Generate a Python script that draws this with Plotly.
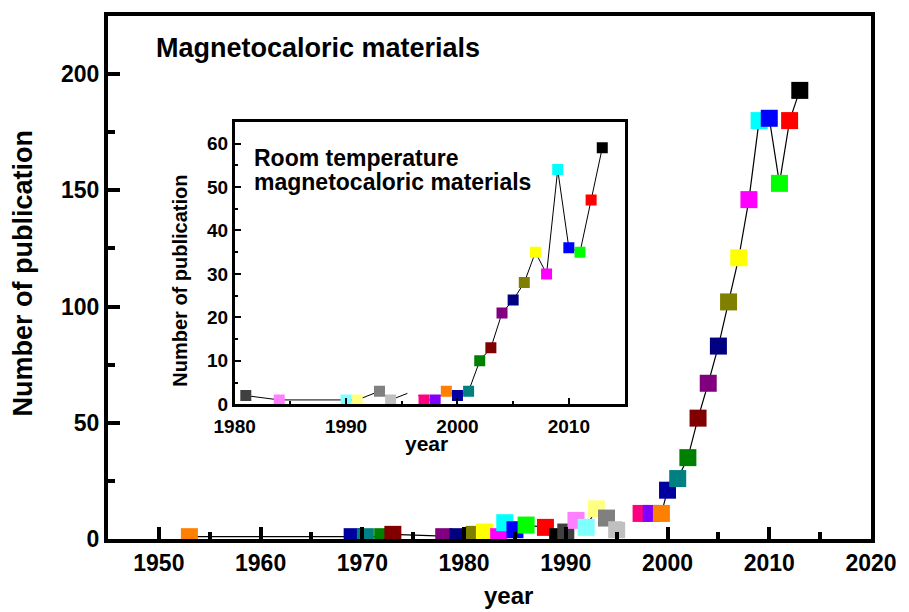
import plotly.graph_objects as go

# ---- data: main panel (all magnetocaloric materials) ----
main_years = [1953, 1969, 1970.3, 1972, 1973, 1978, 1979.4, 1981, 1982, 1983.4,
              1984, 1985, 1986.1, 1988, 1989.2, 1990, 1991, 1992, 1993, 1994,
              1995, 1996.4, 1997.4, 1998.4, 1999.4, 2000, 2001, 2002, 2003, 2004,
              2005, 2006, 2007, 2008, 2009, 2010, 2011, 2012, 2013]
main_counts = [1, 1, 1, 1, 2, 1, 1, 2, 3, 1,
               7, 4, 6, 5, 1, 3, 8, 5, 13, 9,
               4, 11, 11, 11, 11, 21, 26, 35, 52, 67,
               83, 102, 121, 146, 180, 181, 153, 180, 193]
main_colors = ["#FF8000", "#0000A0", "#008080", "#008000", "#800000", "#800080", "#000080",
               "#808000", "#FFFF00", "#FF00FF", "#00FFFF", "#0000FF", "#00FF00", "#FF0000",
               "#000000", "#404040", "#FF80FF", "#80FFFF", "#FFFF80", "#808080", "#C0C0C0",
               "#FFFFFF", "#FF0080", "#8000FF", "#FF8000", "#0000A0", "#008080", "#008000",
               "#800000", "#800080", "#000080", "#808000", "#FFFF00", "#FF00FF", "#00FFFF",
               "#0000FF", "#00FF00", "#FF0000", "#000000"]

# ---- data: inset (room temperature magnetocaloric materials) ----
inset_years = [1981, 1984, 1990, 1991, 1993, 1994, 1996, 1997, 1998, 1999, 2000, 2001,
               2002, 2003, 2004, 2005, 2006, 2007, 2008, 2009, 2010, 2011, 2012, 2013]
inset_counts = [2, 1, 1, 1, 3, 1, 3, 1, 1, 3, 2, 3,
                10, 13, 21, 24, 28, 35, 30, 54, 36, 35, 47, 59]
inset_colors = ["#404040", "#FF80FF", "#80FFFF", "#FFFF80", "#808080", "#C0C0C0",
                "#FFFFFF", "#FF0080", "#8000FF", "#FF8000", "#0000A0", "#008080",
                "#008000", "#800000", "#800080", "#000080", "#808000", "#FFFF00",
                "#FF00FF", "#00FFFF", "#0000FF", "#00FF00", "#FF0000", "#000000"]

main_xticks = [1950, 1960, 1970, 1980, 1990, 2000, 2010, 2020]
main_yticks = [0, 50, 100, 150, 200]
inset_xticks = [1980, 1990, 2000, 2010]
inset_yticks = [0, 10, 20, 30, 40, 50, 60]

FONT = "Liberation Sans, Arial, sans-serif"

fig = go.Figure()
fig.add_trace(go.Scatter(
    x=main_years, y=main_counts, mode="lines+markers",
    line=dict(color="black", width=1.2),
    marker=dict(symbol="square", size=17, color=main_colors, line=dict(width=0)),
    xaxis="x", yaxis="y", showlegend=False, hoverinfo="x+y"))
fig.add_trace(go.Scatter(
    x=inset_years, y=inset_counts, mode="lines+markers",
    line=dict(color="black", width=1),
    marker=dict(symbol="square", size=11, color=inset_colors, line=dict(width=0)),
    xaxis="x2", yaxis="y2", showlegend=False, hoverinfo="x+y"))

tickfont_main = dict(family=FONT, size=23, color="black", weight="bold")
tickfont_inset = dict(family=FONT, size=19, color="black", weight="bold")

fig.update_layout(
    width=909, height=612,
    margin=dict(l=108, r=30, t=15, b=73),
    paper_bgcolor="white", plot_bgcolor="white",
    xaxis=dict(domain=[0, 1], range=[1945, 2020], tickvals=main_xticks,
               ticks="inside", ticklen=12, tickwidth=3.5, tickcolor="black",
               minor=dict(dtick=5, tick0=1945, ticks="inside", ticklen=7, tickwidth=3.5, tickcolor="black"),
               showline=True, linewidth=4, linecolor="black", mirror=True,
               showgrid=False, zeroline=False, tickfont=tickfont_main, anchor="y"),
    yaxis=dict(domain=[0, 1], range=[0, 225], tickvals=main_yticks,
               ticks="inside", ticklen=12, tickwidth=3.5, tickcolor="black",
               minor=dict(dtick=25, tick0=0, ticks="inside", ticklen=7, tickwidth=3.5, tickcolor="black"),
               showline=True, linewidth=4, linecolor="black", mirror=True,
               showgrid=False, zeroline=False, tickfont=tickfont_main, anchor="x"),
    xaxis2=dict(domain=[0.166, 0.677], range=[1980, 2015], tickvals=inset_xticks,
                ticks="inside", ticklen=7, tickwidth=2, tickcolor="black",
                minor=dict(dtick=5, tick0=1980, ticks="inside", ticklen=4, tickwidth=2, tickcolor="black"),
                showline=True, linewidth=2.5, linecolor="black", mirror=True,
                showgrid=False, zeroline=False, tickfont=tickfont_inset, anchor="y2",
                ticklabelstandoff=3),
    yaxis2=dict(domain=[0.2576, 0.7977], range=[0, 65], tickvals=inset_yticks,
                ticks="inside", ticklen=7, tickwidth=2, tickcolor="black",
                minor=dict(dtick=5, tick0=0, ticks="inside", ticklen=4, tickwidth=2, tickcolor="black"),
                showline=True, linewidth=2.5, linecolor="black", mirror=True,
                showgrid=False, zeroline=False, tickfont=tickfont_inset, anchor="x2"),
    shapes=[dict(type="rect", xref="x2 domain", yref="y2 domain", x0=0, x1=1, y0=0, y1=1,
                 fillcolor="white", line=dict(width=0), layer="below")],
)

def px(xp, yp):
    return (xp - 108) / 771, (539 - yp) / 524

ann_font = lambda s: dict(family=FONT, size=s, color="black", weight="bold")

def label(text, xp, yp, size, xanchor="center", angle=0):
    x, y = px(xp, yp)
    fig.add_annotation(text=text, xref="paper", yref="paper", x=x, y=y,
                       xanchor=xanchor, yanchor="middle", textangle=angle,
                       showarrow=False, font=ann_font(size))

label("Magnetocaloric materials", 154, 47, 27, xanchor="left")
label("Room temperature", 254, 157, 23, xanchor="left")
label("magnetocaloric materials", 254, 181, 23, xanchor="left")
label("year", 513, 596, 24)
label("Number of publication", 22, 272, 27, angle=-90)
label("year", 430, 443, 21)
label("Number of publication", 181, 280, 20, angle=-90)

fig.write_html("out.html")
